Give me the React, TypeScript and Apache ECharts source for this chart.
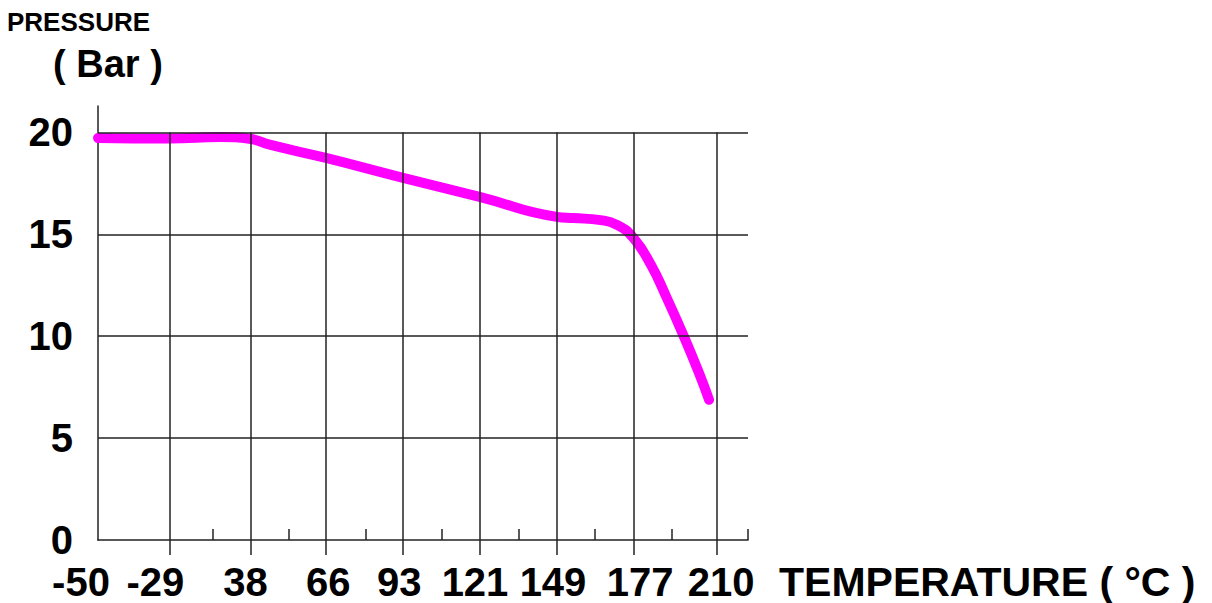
import React, { useEffect, useRef } from 'react';
import * as echarts from 'echarts';

// ---- data ----
const tempLabels = ['-50', '-29', '38', '66', '93', '121', '149', '177', '210'];
const tempTicks = [-50, -29, 38, 66, 93, 121, 149, 177, 210];
const pressureTicks = [0, 5, 10, 15, 20];
const curveTemps = [-50, -29, 13, 38, 45, 66, 93, 121, 149, 155, 165, 171, 177, 184, 190, 197, 203, 207];
const curvePressure = [19.73, 19.7, 19.78, 19.68, 19.4, 18.75, 17.77, 16.84, 15.86, 15.8, 15.7, 15.47, 14.83, 13.5, 11.95, 10.0, 8.2, 6.88];

// ---- layout of the (non-linear) temperature axis, in axis slots ----
const tickSlot = [0, 0.936, 2, 2.98, 3.99, 4.99, 6, 7, 8.09];
const labelSlot = [0, 0.75, 1.93, 3.01, 3.94, 4.93, 5.95, 7.09, 8.15];
const minorSlot = [1.5, 2.5, 3.5, 4.5, 5.5, 6.5, 7.5, 8.5];
const X_MAX = 8.5;
const Y_MAX = 21.3;
const GRID_TOP_VALUE = 20;

const FONT = "Arial, 'Liberation Sans', Helvetica, sans-serif";
const INK = '#222';

function slotOf(t: number): number {
  for (let i = 0; i < tempTicks.length - 1; i++) {
    if (t <= tempTicks[i + 1]) {
      const f = (t - tempTicks[i]) / (tempTicks[i + 1] - tempTicks[i]);
      return tickSlot[i] + f * (tickSlot[i + 1] - tickSlot[i]);
    }
  }
  const n = tempTicks.length - 1;
  return tickSlot[n] + ((t - tempTicks[n]) / (tempTicks[n] - tempTicks[n - 1])) * (tickSlot[n] - tickSlot[n - 1]);
}

export default function App() {
  const ref = useRef<HTMLDivElement>(null);

  useEffect(() => {
    if (!ref.current) return;
    const chart = echarts.init(ref.current, undefined, { renderer: 'svg' });

    const curve = curveTemps.map((t, i) => [slotOf(t), curvePressure[i]]);

    const gridLines: any[] = [];
    pressureTicks.slice(1).forEach((p) => gridLines.push({ yAxis: p }));
    tickSlot.slice(1).forEach((s) =>
      gridLines.push([{ coord: [s, 0] }, { coord: [s, GRID_TOP_VALUE] }])
    );

    chart.setOption({
      animation: false,
      backgroundColor: '#fff',
      title: [
        {
          text: 'PRESSURE',
          left: 7,
          top: 9,
          padding: 0,
          textStyle: { fontFamily: FONT, fontSize: 26, fontWeight: 'bold', color: '#000' },
        },
        {
          text: '( Bar )',
          left: 53,
          top: 45,
          padding: 0,
          textStyle: { fontFamily: FONT, fontSize: 38, fontWeight: 'bold', color: '#000' },
        },
      ],
      grid: { left: 98, right: 464, top: 106, bottom: 63, containLabel: false },
      xAxis: [
        {
          type: 'value',
          min: 0,
          max: X_MAX,
          name: 'TEMPERATURE ( °C )',
          nameLocation: 'end',
          nameGap: 31,
          nameTextStyle: {
            fontFamily: FONT,
            fontSize: 41,
            fontWeight: 'bold',
            color: '#000',
            verticalAlign: 'top',
            align: 'left',
            padding: [21, 0, 0, 0],
          },
          axisLine: { show: true, lineStyle: { color: INK, width: 1.5 } },
          axisTick: {
            show: true,
            inside: false,
            length: 15,
            customValues: tickSlot.slice(1),
            lineStyle: { color: INK, width: 1.5 },
          },
          axisLabel: {
            show: true,
            customValues: labelSlot,
            margin: 22,
            fontFamily: FONT,
            fontSize: 40,
            fontWeight: 'bold',
            color: '#000',
            formatter: (v: number) => {
              const i = labelSlot.findIndex((s) => Math.abs(s - v) < 1e-6);
              if (i < 0) return '';
              return i === 0 ? `{first|${tempLabels[i]}}` : tempLabels[i];
            },
            rich: {
              first: {
                fontFamily: FONT,
                fontSize: 40,
                fontWeight: 'bold',
                color: '#000',
                padding: [0, 34, 0, 0],
              },
            },
          },
          splitLine: { show: false },
        },
        {
          type: 'value',
          min: 0,
          max: X_MAX,
          position: 'bottom',
          axisLine: { show: false },
          axisTick: {
            show: true,
            inside: true,
            length: 11,
            customValues: minorSlot,
            lineStyle: { color: INK, width: 1.5 },
          },
          axisLabel: { show: false },
          splitLine: { show: false },
        },
      ],
      yAxis: {
        type: 'value',
        min: 0,
        max: Y_MAX,
        axisLine: { show: true, lineStyle: { color: INK, width: 1.5 } },
        axisTick: { show: false, customValues: pressureTicks },
        axisLabel: {
          customValues: pressureTicks,
          margin: 25,
          fontFamily: FONT,
          fontSize: 40,
          fontWeight: 'bold',
          color: '#000',
        },
        splitLine: { show: false },
      },
      series: [
        {
          type: 'line',
          xAxisIndex: 0,
          yAxisIndex: 0,
          data: curve,
          smooth: 0.5,
          symbol: 'none',
          clip: true,
          lineStyle: { color: '#ff00ff', width: 10, cap: 'round', join: 'round' },
          emphasis: { disabled: true },
          markLine: {
            silent: true,
            symbol: 'none',
            z: 5,
            label: { show: false },
            emphasis: { disabled: true },
            lineStyle: { color: INK, width: 1.5, type: 'solid' },
            data: gridLines,
          },
        },
      ],
    });

    return () => chart.dispose();
  }, []);

  return (
    <div
      ref={ref}
      style={{ position: 'fixed', left: 0, top: 0, width: 1212, height: 603, background: '#fff' }}
    />
  );
}
